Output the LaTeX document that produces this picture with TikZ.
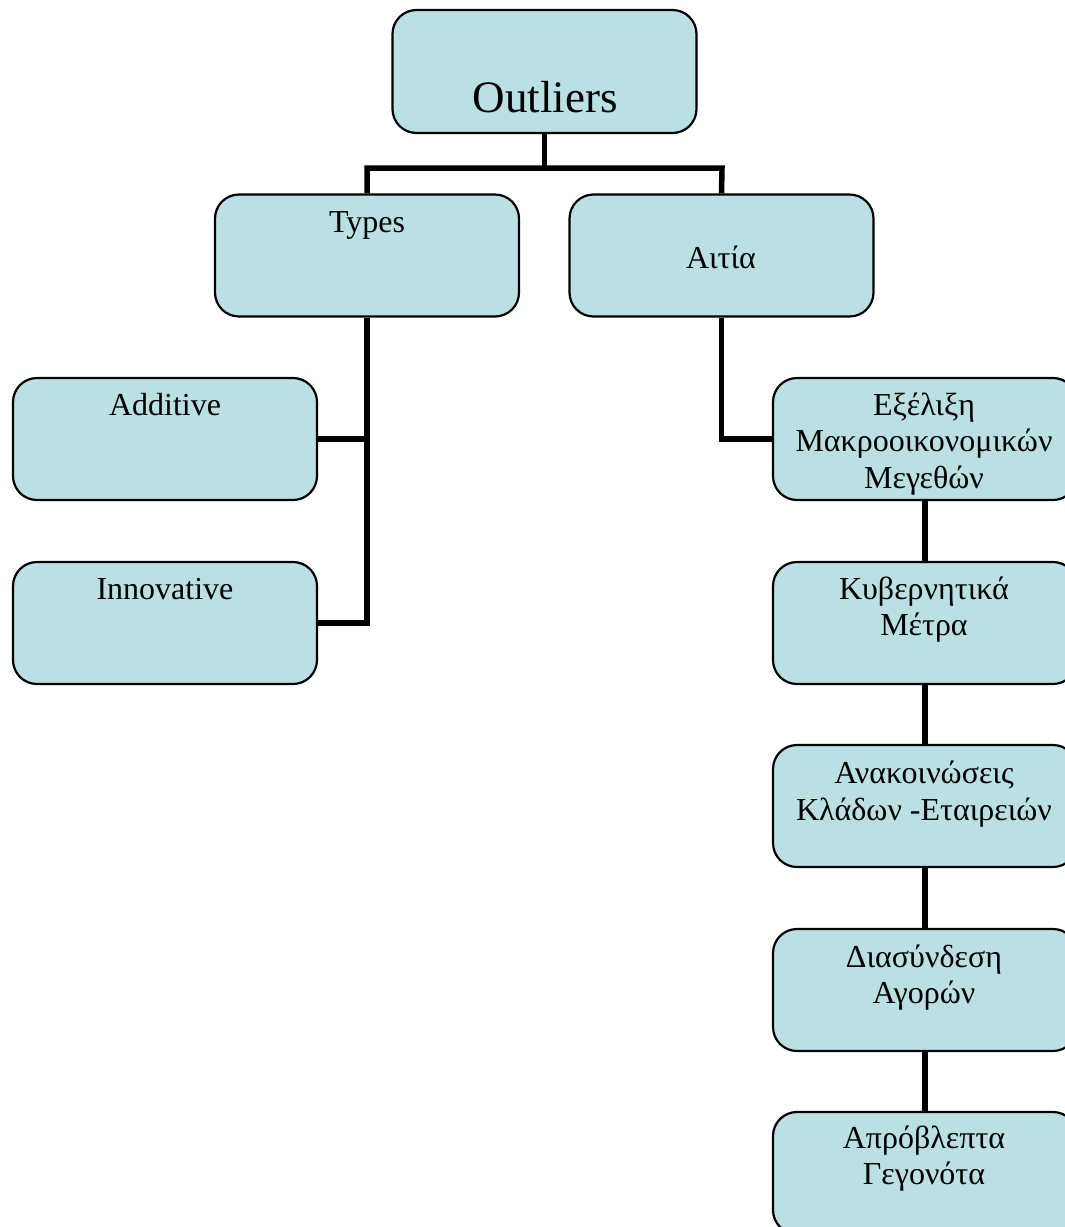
\documentclass[tikz,border=0pt]{standalone}
\usepackage{fontspec}
\setmainfont{Liberation Serif}
\definecolor{boxc}{HTML}{BAE0E4}
\begin{document}
\begin{tikzpicture}[x=1pt,y=-1pt,
 box/.style={draw=black, line width=2.2pt, rounded corners=24pt, fill=boxc, minimum width=304pt, minimum height=122pt, inner sep=0pt},
 lbl/.style={anchor=base, align=center, inner sep=0pt, font=\fontsize{32}{36.5}\selectfont},
 big/.style={anchor=base, inner sep=0pt, font=\fontsize{45}{50}\selectfont},
 conn/.style={line width=5.5pt, line join=miter}]
\useasboundingbox (0,0) rectangle (1065,1227);
% boxes
\node[box, minimum height=123pt] (out) at (544.5,71.5) {};
\node[box] (types) at (367,255.5) {};
\node[box] (aitia) at (721.5,255.5) {};
\node[box] (add) at (165,439) {};
\node[box] (inn) at (165,623) {};
\node[box] (r1) at (925,439) {};
\node[box] (r2) at (925,623) {};
\node[box] (r3) at (925,806) {};
\node[box] (r4) at (925,990) {};
\node[box] (r5) at (925,1173) {};
% connectors
\coordinate (hl) at (367,168);
\coordinate (hr) at (722,168);
\draw[conn] (out.south) -- (out.south |- hl);
\draw[conn] (types.north) -- (hl) -- (hr) -- (aitia.north);
\draw[conn] (types.south) -- (types.south |- inn.east) -- (inn.east);
\draw[conn] (add.east) -- (add.east -| types.south);
\draw[conn] (aitia.south) |- (r1.west);
\draw[conn] (r1.south) -- (r2.north);
\draw[conn] (r2.south) -- (r3.north);
\draw[conn] (r3.south) -- (r4.north);
\draw[conn] (r4.south) -- (r5.north);
% labels (base = baseline of the last line)
\node[big] (t-out) at (545,112) {Outliers};
\node[lbl] (t-types) at (367,232) {Types};
\node[lbl] (t-aitia) at (721,268) {Αιτία};
\node[lbl] (t-add) at (165,415) {Additive};
\node[lbl] (t-inn) at (165,599) {Innovative};
\node[lbl] (t-r1) at (924,488) {Εξέλιξη\\Μακροοικονομικών\\Μεγεθών};
\node[lbl] (t-r2) at (924,635.5) {Κυβερνητικά\\Μέτρα};
\node[lbl] (t-r3) at (924,820) {Ανακοινώσεις\\Κλάδων -Εταιρειών};
\node[lbl] (t-r4) at (924,1003.5) {Διασύνδεση\\Αγορών};
\node[lbl] (t-r5) at (924,1184.5) {Απρόβλεπτα\\Γεγονότα};
\end{tikzpicture}
\end{document}
